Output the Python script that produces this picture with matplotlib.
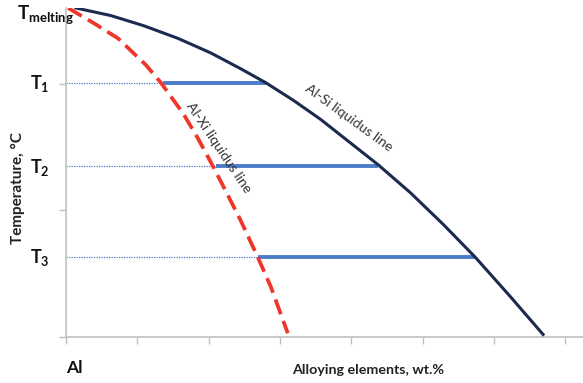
import matplotlib
matplotlib.use("Agg")
import matplotlib.pyplot as plt
import numpy as np

plt.rcParams['font.family'] = ['Lato', 'DejaVu Sans']
plt.rcParams['mathtext.fontset'] = 'custom'
plt.rcParams['mathtext.rm'] = 'Lato'
plt.rcParams['mathtext.bf'] = 'Lato:bold'
plt.rcParams['mathtext.it'] = 'Lato:italic'

# Al-Si liquidus (solid dark line)
alsi_x = [0.14, 0.63, 1.09, 1.57, 2.03, 2.45, 2.80, 3.19, 3.57, 4.38, 4.83, 5.29, 5.74, 6.23, 6.69]
alsi_y = [2.60, 2.54, 2.46, 2.36, 2.245, 2.12, 2.01, 1.87, 1.72, 1.36, 1.14, 0.89, 0.63, 0.32, 0.02]
# Al-Xi liquidus (dashed red line)
alxi_x = [0.03, 0.39, 0.73, 1.12, 1.33, 1.51, 1.65, 1.85, 2.07, 2.27, 2.45, 2.69, 2.87, 3.11]
alxi_y = [2.60, 2.48, 2.36, 2.15, 2.01, 1.87, 1.76, 1.57, 1.34, 1.12, 0.92, 0.63, 0.40, 0.03]

# Isotherms
levels = [2.01, 1.35, 0.63]
level_labels = [r"$\mathbf{T_1}$", r"$\mathbf{T_2}$", r"$\mathbf{T_3}$"]
tie_left = [1.36, 2.10, 2.69]
tie_right = [2.80, 4.38, 5.74]

fig = plt.figure(figsize=(5.83, 3.83), dpi=100)
ax = fig.add_axes([66/583, 1-337/383, 1-66/583, (337-8)/383])
ax.set_xlim(0, 7.25)
ax.set_ylim(0, 2.6)

for y, xl, xr in zip(levels, tie_left, tie_right):
    ax.plot([0, xl], [y, y], color='#4a7cc7', lw=0.9, ls=(0, (1, 1)), zorder=2)
    ax.plot([xl, xr], [y, y], color='#4a7cc7', lw=2.8, solid_capstyle='butt', zorder=3)

ax.plot(alsi_x, alsi_y, color='#1b2a4e', lw=2.2, zorder=4, solid_joinstyle='round')
ax.plot(alxi_x, alxi_y, color='#f0352b', lw=2.7, ls=(0, (4.2, 1.9)), zorder=4)

ax.text(3.96, 1.73, "Al-Si liquidus line", rotation=-36, ha='center', va='center',
        fontsize=10, color='#333333', rotation_mode='anchor')
ax.text(2.14, 1.50, "Al-Xi liquidus line", rotation=-56, ha='center', va='center',
        fontsize=10, color='#333333', rotation_mode='anchor')

for s in ['top', 'right']:
    ax.spines[s].set_visible(False)
for s in ['left', 'bottom']:
    ax.spines[s].set_color('#c0c0c0')
    ax.spines[s].set_linewidth(1.2)
ax.set_xticks(np.arange(0, 8, 1))
ax.set_yticks([0, 1, 2])
ax.tick_params(axis='both', length=5, color='#c0c0c0', width=1, labelbottom=False, labelleft=False)

# labels in figure pixels
def fx(px):
    return px / 583
def fy(py):
    return 1 - py / 383

fig.text(fx(17), fy(15), r"$\mathbf{T_{melting}}$", ha='left', va='center', fontsize=13.5, color='#111111')
for y, lab in zip([84, 168, 258], level_labels):
    fig.text(fx(30), fy(y), lab, ha='left', va='center', fontsize=13, color='#111111')
fig.text(fx(18), fy(188), "Temperature, °C", rotation=90, ha='center', va='center',
         fontsize=11, fontweight='bold', color='#222222')
fig.text(fx(66), fy(368), "Al", ha='left', va='center', fontsize=12.5, fontweight='bold', color='#111111')
fig.text(fx(292), fy(370), "Alloying elements, wt.%", ha='left', va='center', fontsize=10.3,
         fontweight='bold', color='#222222')

fig.savefig("out.png", dpi=100)
